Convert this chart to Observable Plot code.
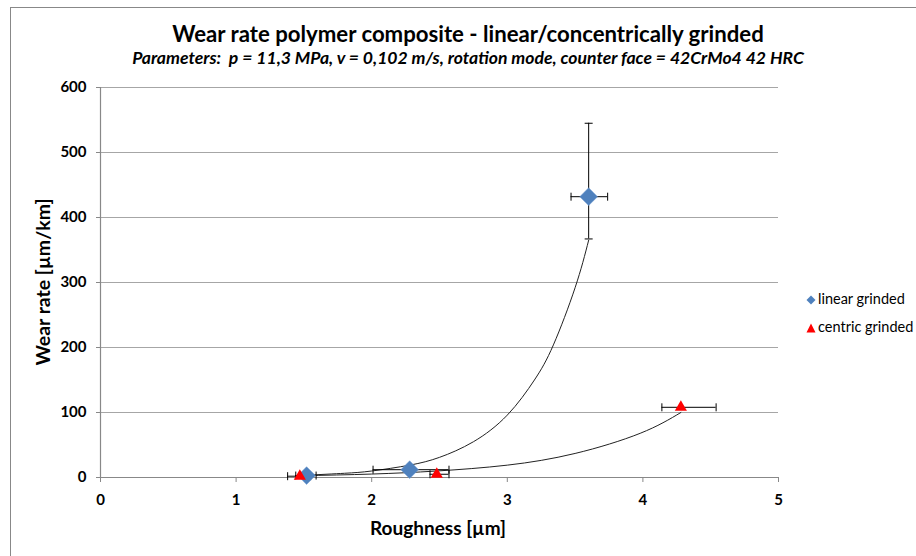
<!DOCTYPE html>
<html><head><meta charset="utf-8">
<script src="https://cdn.jsdelivr.net/npm/d3@7"></script>
<script src="https://cdn.jsdelivr.net/npm/@observablehq/plot@0.6"></script>
<style>
body{margin:0;background:#fff;font-family:Lato,"Open Sans",sans-serif;}
#wrap{position:relative;width:916px;height:556px;overflow:hidden;background:#fff;}
#frame{position:absolute;left:10px;top:7px;width:1000px;height:1000px;border-left:1.5px solid #888;border-top:1.5px solid #888;}
#chart{position:absolute;left:0;top:0;}
.t{position:absolute;white-space:nowrap;color:#000;}
#title{left:0;width:936px;top:20px;text-align:center;font-weight:bold;font-size:22.2px;}
#subtitle{left:0;width:936px;top:47px;text-align:center;font-weight:bold;font-style:italic;font-size:17.6px;}
#ylab{left:42px;top:282px;transform:translate(-50%,-50%) rotate(-90deg);font-weight:bold;font-size:19.5px;}
#xlab{left:438px;top:527px;transform:translate(-50%,-50%);font-weight:bold;font-size:19px;}
.leg{left:806px;font-size:14.5px;}
</style></head>
<body><div id="wrap">
<div id="frame"></div>
<div id="chart"></div>
<div class="t" id="title">Wear rate polymer composite - linear/concentrically grinded</div>
<div class="t" id="subtitle">Parameters:&nbsp; p = 11,3 MPa, v = 0,102 m/s, rotation mode, counter face = 42CrMo4 42 HRC</div>
<div class="t" id="ylab">Wear rate [µm/km]</div>
<div class="t" id="xlab">Roughness [µm]</div>
<div class="t leg" style="top:290px"><svg width="10" height="10" style="vertical-align:-1px;margin-right:2px"><path d="M5 0.5L9.5 5L5 9.5L0.5 5Z" fill="#4F81BD"/></svg>linear grinded</div>
<div class="t leg" style="top:318px"><svg width="10" height="10" style="vertical-align:-1px;margin-right:2px"><path d="M5 0.5L9.5 9.5L0.5 9.5Z" fill="#FF0000"/></svg>centric grinded</div>
</div>
<script>
// ---- data ----
const xTicks = [0, 1, 2, 3, 4, 5];
const yTicks = [0, 100, 200, 300, 400, 500, 600];

const linearX   = [1.52, 2.28, 3.60];
const linearY   = [3, 12, 432];
const linearXLo = [1.44, 2.01, 3.47];
const linearXHi = [1.59, 2.57, 3.74];
const linearYLo = [3, 12, 367];
const linearYHi = [3, 12, 545];

const centricX   = [1.47, 2.48, 4.28];
const centricY   = [2, 5, 108];
const centricXLo = [1.38, 2.43, 4.14];
const centricXHi = [1.55, 2.57, 4.54];

// trend curves, points
const linearTrendX = [1.52, 1.8, 2.0, 2.28, 2.5, 2.75, 3.0, 3.2, 3.34, 3.5, 3.6];
const linearTrendY = [3.5, 6.5, 10, 19, 31, 55, 96, 150, 204, 292, 365];
const centricTrendX = [1.47, 2.0, 2.48, 3.0, 3.5, 3.98, 4.28];
const centricTrendY = [2.7, 5.3, 10, 19, 37, 68, 100];

// ---- tables ----
const lin = linearX.map((x, i) => ({x, y: linearY[i], xlo: linearXLo[i], xhi: linearXHi[i], ylo: linearYLo[i], yhi: linearYHi[i]}));
const cen = centricX.map((x, i) => ({x, y: centricY[i], xlo: centricXLo[i], xhi: centricXHi[i]}));
const linTrend = linearTrendX.map((x, i) => ({x, y: linearTrendY[i]}));
const cenTrend = centricTrendX.map((x, i) => ({x, y: centricTrendY[i]}));
const linV = lin.filter(d => d.yhi > d.ylo);

const hcap = {draw(ctx, size) { const r = Math.sqrt(size / Math.PI); ctx.moveTo(-r, 0); ctx.lineTo(r, 0); }};
const vcap = {draw(ctx, size) { const r = Math.sqrt(size / Math.PI); ctx.moveTo(0, -r); ctx.lineTo(0, r); }};

const chart = Plot.plot({
  width: 916, height: 556,
  marginLeft: 100, marginRight: 138, marginTop: 87, marginBottom: 79,
  style: {fontFamily: "Lato, 'Open Sans', sans-serif", background: "transparent", color: "#000"},
  x: {domain: [0, 5]},
  y: {domain: [0, 600]},
  marks: [
    Plot.gridY(yTicks.filter(d => d > 0), {stroke: "#a6a6a6", strokeOpacity: 1, strokeWidth: 1}),
    Plot.ruleY([0], {stroke: "#888", strokeWidth: 1.2}),
    Plot.ruleX([0], {stroke: "#888", strokeWidth: 1.2}),
    Plot.axisY(yTicks, {tickSize: 4, tickPadding: 10, fontSize: 15, fontWeight: "bold", label: null, stroke: "#888", color: "#000", tickFormat: d => String(d)}),
    Plot.axisX(xTicks, {tickSize: 5, tickPadding: 12, fontSize: 15, fontWeight: "bold", label: null, stroke: "#888", tickFormat: d => String(d)}),
    Plot.line(linTrend, {x: "x", y: "y", curve: "natural", stroke: "#222", strokeWidth: 1}),
    Plot.line(cenTrend, {x: "x", y: "y", curve: "natural", stroke: "#222", strokeWidth: 1}),
    // linear error bars
    Plot.ruleY(lin, {x1: "xlo", x2: "xhi", y: "y", stroke: "#000", strokeWidth: 1}),
    Plot.dot(lin, {x: "xlo", y: "y", symbol: vcap, r: 4, stroke: "#000", strokeWidth: 1}),
    Plot.dot(lin, {x: "xhi", y: "y", symbol: vcap, r: 4, stroke: "#000", strokeWidth: 1}),
    Plot.ruleX(linV, {x: "x", y1: "ylo", y2: "yhi", stroke: "#000", strokeWidth: 1}),
    Plot.dot(linV, {x: "x", y: "ylo", symbol: hcap, r: 4, stroke: "#000", strokeWidth: 1}),
    Plot.dot(linV, {x: "x", y: "yhi", symbol: hcap, r: 4, stroke: "#000", strokeWidth: 1}),
    // centric error bars
    Plot.ruleY(cen, {x1: "xlo", x2: "xhi", y: "y", stroke: "#000", strokeWidth: 1}),
    Plot.dot(cen, {x: "xlo", y: "y", symbol: vcap, r: 4, stroke: "#000", strokeWidth: 1}),
    Plot.dot(cen, {x: "xhi", y: "y", symbol: vcap, r: 4, stroke: "#000", strokeWidth: 1}),
    // markers
    Plot.dot(lin, {x: "x", y: "y", symbol: "diamond2", r: 8, fill: "#4F81BD", stroke: "#6f9ad0", strokeWidth: 0.5}),
    Plot.dot(cen, {x: "x", y: "y", symbol: "triangle", r: 4.5, fill: "#FF0000", stroke: "none"})
  ]
});
document.getElementById("chart").appendChild(chart);
</script>
</body></html>
